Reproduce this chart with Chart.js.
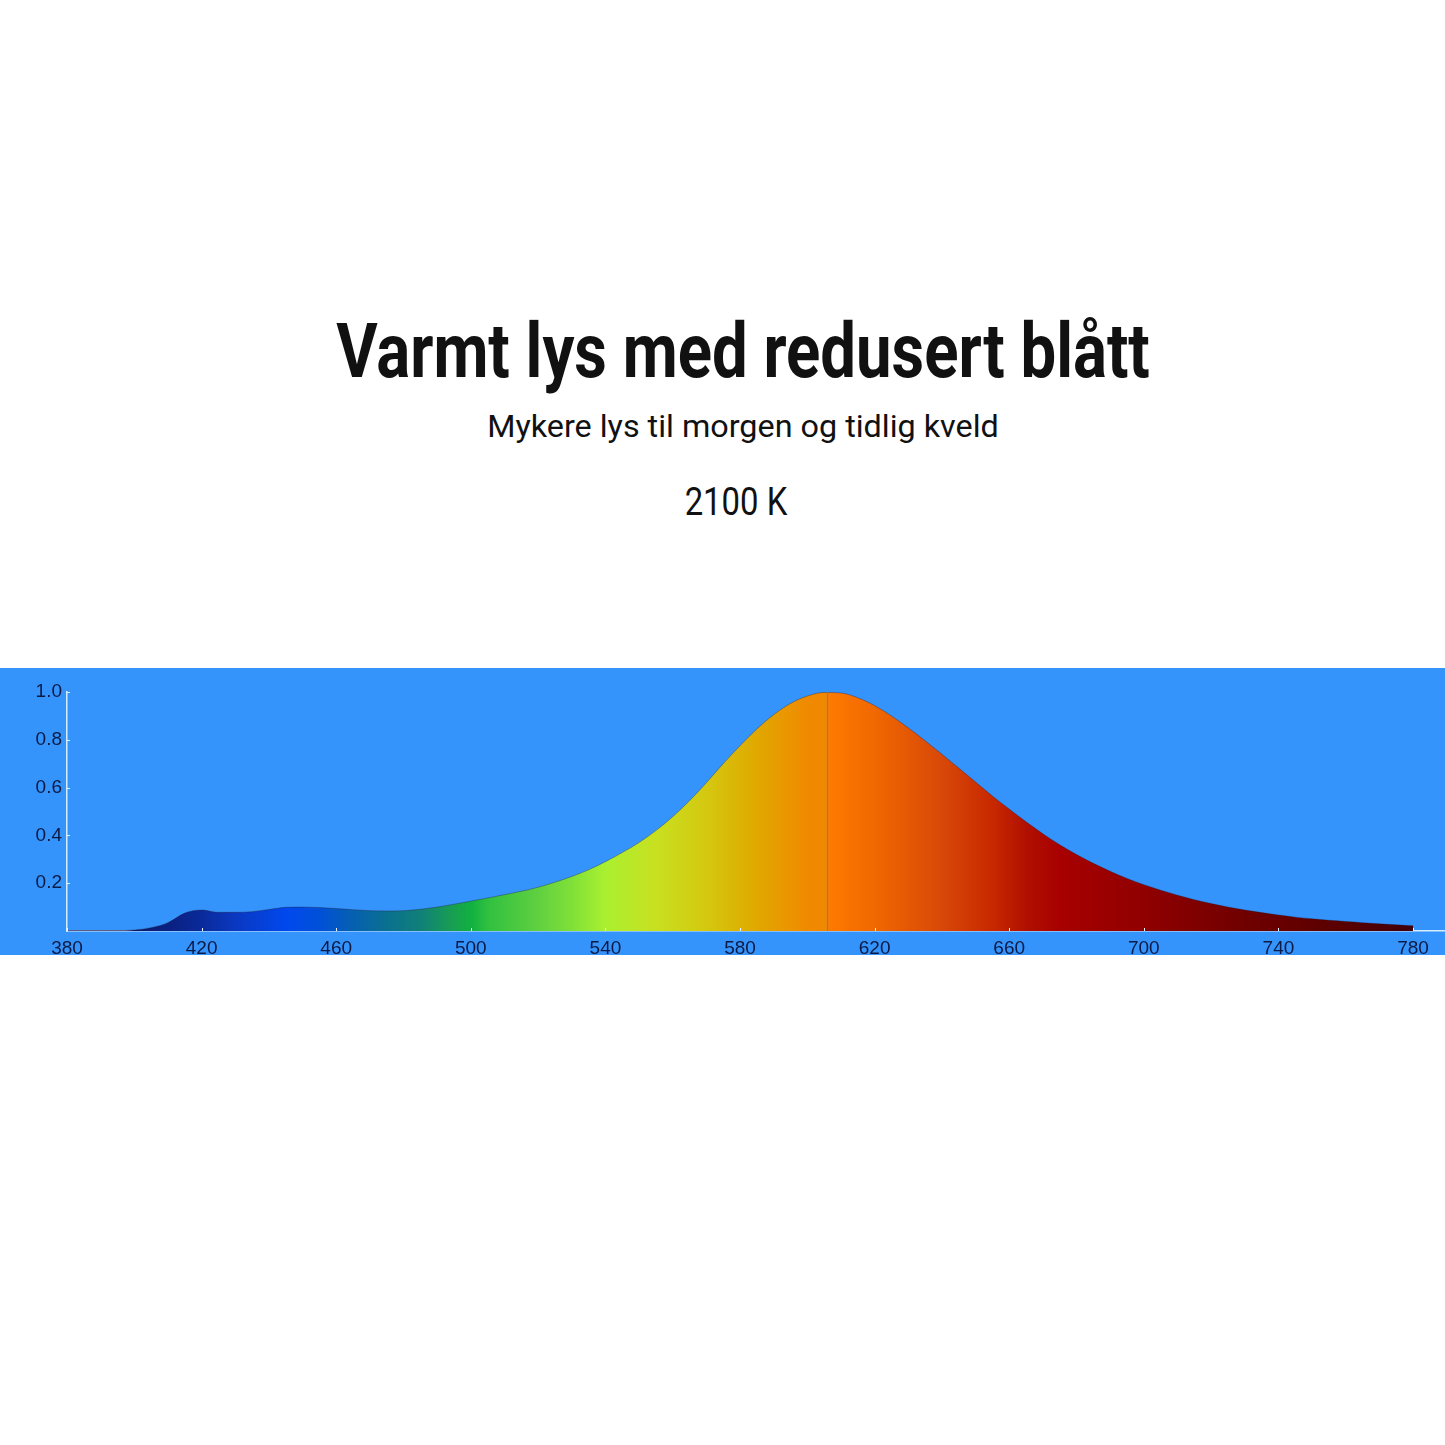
<!DOCTYPE html>
<html>
<head>
<meta charset="utf-8">
<script src="https://cdn.jsdelivr.net/npm/chart.js@4.4.1/dist/chart.umd.min.js"></script>
<style>
  html, body { margin: 0; padding: 0; background: #fff; }
  body { width: 1445px; height: 1445px; position: relative; overflow: hidden; font-family: Roboto, "Liberation Sans", sans-serif; }
  .txt { position: absolute; white-space: nowrap; line-height: 1; color: #111; transform-origin: 50% 50%; }
  #title { font-weight: 700; font-size: 76px; top: 313px; left: 743px; }
  #sub { font-weight: 400; font-size: 31px; top: 411px; left: 743px; }
  #temp { font-weight: 400; font-size: 38px; top: 483px; left: 736px; }
  #band { position: absolute; left: 0; top: 668px; width: 1445px; height: 287px; background: #3494fb; }
</style>
</head>
<body>
<div class="txt" id="title" data-w="814">Varmt lys med redusert blått</div>
<div class="txt" id="sub" data-w="512">Mykere lys til morgen og tidlig kveld</div>
<div class="txt" id="temp" data-w="103">2100 K</div>
<div id="band"><canvas id="myChart"></canvas></div>
<script>
// spektrum 2100 K, relativ intensitet
const wavelengths = [380,385,390,395,400,405,410,415,420,425,430,435,440,445,450,455,460,465,470,475,
  480,485,490,495,500,505,510,515,520,525,530,535,540,545,550,555,560,565,570,575,
  580,585,590,595,600,605,610,615,620,625,630,635,640,645,650,655,660,665,670,675,
  680,685,690,695,700,705,710,715,720,725,730,735,740,745,750,755,760,765,770,775,780];
const intensity = [0.002,0.002,0.002,0.002,0.004,0.014,0.035,0.075,0.088,0.078,0.078,0.081,0.09,0.099,0.1,0.098,0.094,0.089,0.085,0.084,
  0.085,0.091,0.1,0.112,0.125,0.138,0.152,0.166,0.183,0.204,0.228,0.256,0.29,0.328,0.37,0.42,0.478,0.545,0.62,0.7,
  0.775,0.845,0.905,0.952,0.983,0.998,0.996,0.976,0.943,0.9,0.85,0.796,0.74,0.682,0.623,0.565,0.51,0.457,0.407,0.361,
  0.32,0.283,0.25,0.22,0.194,0.171,0.15,0.131,0.115,0.1,0.088,0.077,0.067,0.058,0.051,0.045,0.04,0.035,0.03,0.026,0.022];
const peakNm = 606;
const xTicks = [380,420,460,500,540,580,620,660,700,740,780];
const yTicks = [0.2,0.4,0.6,0.8,1.0];

// farger langs bølgelengden
const colorNm = [380,400,410,420,430,445,455,465,475,485,495,500,505,520,530,540,555,570,585,600,605.9,606.1,620,640,655,665,675,700,730,760,780];
const colorHex = ['#0a1a6e','#0a1a6e','#0a2080','#0a2a9a','#0a38c0','#0048ee','#0050d8','#0660b0','#0a7090','#108078','#18a050','#10b040','#30c040','#60d040','#80e038','#aaf030','#c8e020','#d4c810','#e0a800','#f08a00','#f08800','#ff7a00','#f06800','#d84808','#c82800','#b01000','#a80000','#900000','#700000','#580000','#40000a'];

document.querySelectorAll('.txt').forEach(el => {
  const s = Number(el.dataset.w) / el.scrollWidth;
  el.style.transform = 'translateX(-50%) scaleX(' + s + ')';
});

function spectrum(context) {
  const chart = context.chart;
  if (!chart.chartArea) return '#f08a00';
  const x = chart.scales.x;
  const x0 = x.getPixelForValue(380), x1 = x.getPixelForValue(780);
  const g = chart.ctx.createLinearGradient(x0, 0, x1, 0);
  colorNm.forEach((nm, i) => g.addColorStop((nm - 380) / 400, colorHex[i]));
  return g;
}

const innerTicks = {
  id: 'innerTicks',
  afterDraw(chart) {
    const c = chart.ctx, x = chart.scales.x, y = chart.scales.y;
    const base = y.getPixelForValue(0), left = x.getPixelForValue(380);
    c.save();
    c.strokeStyle = '#e8f4ff';
    c.lineWidth = 1;
    c.beginPath();
    xTicks.forEach(v => { const px = Math.round(x.getPixelForValue(v)) + 0.5; c.moveTo(px, base); c.lineTo(px, base - 3); });
    yTicks.forEach(v => { const py = Math.round(y.getPixelForValue(v)) + 0.5; c.moveTo(left, py); c.lineTo(left + 3, py); });
    c.stroke();
    c.restore();
  }
};

const ctx = document.getElementById('myChart');
const tickFont = { family: '"Liberation Sans", Arial, sans-serif', size: 19 };

new Chart(ctx, {
  type: 'line',
  data: {
    datasets: [{
      data: wavelengths.map((w, i) => ({ x: w, y: intensity[i] })),
      fill: 'origin',
      backgroundColor: spectrum,
      borderColor: 'rgba(40,10,20,0.3)',
      borderWidth: 1,
      pointRadius: 0,
      tension: 0.4,
      cubicInterpolationMode: 'monotone',
      order: 2
    }, {
      data: [{ x: peakNm, y: 0 }, { x: peakNm, y: 1.0 }],
      borderColor: '#808080',
      borderWidth: 1.2,
      pointRadius: 0,
      fill: false,
      order: 1
    }]
  },
  options: {
    responsive: true,
    maintainAspectRatio: false,
    animation: false,
    layout: { padding: { top: 24, right: 0, left: 0, bottom: 0 } },
    plugins: { legend: { display: false }, tooltip: { enabled: false } },
    scales: {
      x: {
        type: 'linear',
        min: 380,
        max: 789.5,
        grid: { display: false, drawTicks: false },
        border: { color: '#d6ecff', width: 1.5 },
        ticks: { padding: 6, color: '#0d1a45', font: tickFont, maxRotation: 0, autoSkip: false },
        afterBuildTicks(scale) { scale.ticks = xTicks.map(v => ({ value: v })); },
        afterFit(scale) { scale.height = 24; }
      },
      y: {
        min: 0,
        max: 1,
        grid: { display: false, drawTicks: false },
        border: { color: '#d6ecff', width: 1.5 },
        ticks: { padding: 5, color: '#0d1a45', font: tickFont, callback: v => v.toFixed(1) },
        afterBuildTicks(scale) { scale.ticks = yTicks.map(v => ({ value: v })); },
        afterFit(scale) { scale.width = 67; }
      }
    }
  },
  plugins: [innerTicks]
});
</script>
</body>
</html>
